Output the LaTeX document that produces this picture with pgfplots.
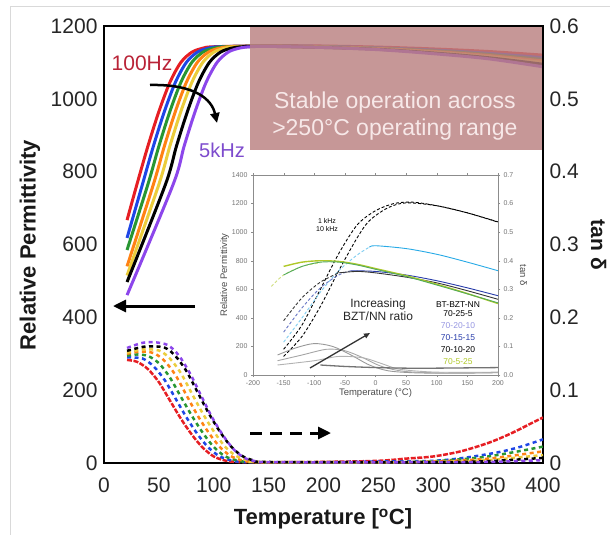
\documentclass[border=0pt]{standalone}
\usepackage{fontspec}
\setmainfont{Liberation Sans}
\usepackage{pgfplots}
\pgfplotsset{compat=1.18}
\usetikzlibrary{arrows.meta}

\definecolor{cRed}{RGB}{230,30,35}
\definecolor{cBlue}{RGB}{30,70,230}
\definecolor{cGreen}{RGB}{40,150,50}
\definecolor{cOrange}{RGB}{255,130,20}
\definecolor{cYellow}{RGB}{235,205,60}
\definecolor{cPurple}{RGB}{140,70,235}
\definecolor{boxFill}{RGB}{185,128,128}
\definecolor{boxText}{RGB}{247,232,232}
\definecolor{lblRed}{RGB}{185,35,55}
\definecolor{lblPurple}{RGB}{125,75,205}
\definecolor{inLBlue}{RGB}{40,170,230}
\definecolor{inNavy}{RGB}{40,60,170}
\definecolor{inLime}{RGB}{175,200,40}
\definecolor{inLav}{RGB}{150,150,225}

\pgfplotsset{
  perm/.style={line width=3pt, smooth, tension=0.5, no markers},
  tand/.style={line width=2.5pt, smooth, tension=0.5, no markers, dash pattern=on 4pt off 3.5pt},
  ins/.style={line width=0.9pt, smooth, tension=0.5, no markers},
  bigaxis/.style={
    at={(104pt,-463pt)}, anchor=south west,
    width=439pt, height=437pt, scale only axis,
    xmin=0, xmax=400,
    major tick length=0pt,
    axis line style={line width=1.6pt},
    tick label style={font=\fontsize{21}{24}\selectfont, text=black!85},
    /pgf/number format/assume math mode=true,
    /pgf/number format/1000 sep={},
  },
  smallaxis/.style={
    at={(253pt,-375pt)}, anchor=south west,
    width=245pt, height=200pt, scale only axis,
    xmin=-200, xmax=200,
    tick align=outside, major tick length=2pt,
    tick style={black!45},
    axis line style={black!45, line width=0.8pt},
    tick label style={font=\fontsize{7}{8}\selectfont, text=black!55},
    label style={font=\fontsize{9.5}{11}\selectfont, text=black!70},
    /pgf/number format/assume math mode=true,
    /pgf/number format/1000 sep={},
  },
}

\begin{document}
\begin{tikzpicture}
\useasboundingbox (0,0) rectangle (610pt,-535pt);
\draw[black!15, line width=1pt] (10pt,-535pt) -- (10pt,-7pt) -- (610pt,-7pt);

% relative permittivity, 100 Hz ... 5 kHz
\begin{axis}[bigaxis,
  ymin=0, ymax=1200,
  xtick={0,50,...,400}, ytick={0,200,...,1200},
  axis on top,
  xticklabel style={yshift=-11pt},
  yticklabel style={xshift=-3pt},
]
\addplot[perm, cRed] coordinates {(21,667)(30,765)(40,870)(50,965)(60,1045)(70,1100)(80,1128)(90,1139)(100,1143)(150,1146)(200,1145)(250,1142)(300,1137)(350,1130)(400,1120)};
\addplot[perm, cBlue] coordinates {(21,618)(35,765)(45,870)(55,965)(65,1045)(75,1100)(85,1128)(95,1139)(105,1143)(150,1145)(200,1144)(250,1140)(300,1134)(350,1125)(400,1113)};
\addplot[perm, cGreen] coordinates {(21,585)(40,765)(50,870)(60,965)(70,1045)(80,1100)(90,1128)(100,1139)(110,1143)(150,1145)(200,1143)(250,1139)(300,1132)(350,1122)(400,1108)};
\addplot[perm, cOrange] coordinates {(21,540)(45,765)(55,870)(65,965)(75,1045)(85,1100)(95,1128)(105,1139)(115,1143)(150,1144)(200,1142)(250,1138)(300,1130)(350,1119)(400,1104)};
\addplot[perm, cYellow] coordinates {(21,515)(50,765)(60,870)(70,965)(80,1045)(90,1100)(100,1128)(110,1139)(120,1143)(150,1144)(200,1142)(250,1137)(300,1128)(350,1116)(400,1100)};
\addplot[perm, black] coordinates {(21,497)(56,765)(66,870)(76,965)(86,1045)(96,1100)(106,1128)(116,1139)(126,1143)(150,1144)(200,1141)(250,1136)(300,1126)(350,1113)(400,1095)};
\addplot[perm, cPurple] coordinates {(21,461)(63,765)(73,870)(83,965)(93,1045)(103,1100)(113,1128)(123,1139)(133,1143)(150,1144)(200,1141)(250,1135)(300,1124)(350,1110)(400,1088)};
\fill[boxFill, fill opacity=0.82] (axis cs:133,860) rectangle (axis cs:400,1200);
\node[text=boxText, align=center, font=\fontsize{23}{27}\selectfont] at (axis cs:265,953)
  {Stable operation across\\>250°C operating range};
\end{axis}

% tan delta, right axis
\begin{axis}[bigaxis,
  ymin=0, ymax=0.6,
  axis x line=none, axis y line*=right,
  ytick={0,0.1,0.2,0.3,0.4,0.5,0.6},
  yticklabels={0,0.1,0.2,0.3,0.4,0.5,0.6},
  yticklabel style={xshift=3pt},
]
\addplot[tand, cRed, dash pattern=on 5pt off 1.5pt] coordinates {(21,0.1415)(30,0.139)(40,0.129)(50,0.111)(60,0.086)(70,0.061)(80,0.039)(90,0.021)(100,0.009)(110,0.0035)(120,0.0015)(150,0.001)(200,0.0015)(250,0.003)(275,0.006)(300,0.009)(325,0.016)(350,0.0275)(370,0.04)(390,0.055)(400,0.0625)};
\addplot[tand, cBlue] coordinates {(21,0.145)(35,0.1435)(45,0.133)(55,0.1145)(65,0.089)(75,0.063)(85,0.040)(95,0.0215)(105,0.0095)(115,0.004)(125,0.0015)(150,0.001)(200,0.001)(250,0.002)(300,0.003)(330,0.0075)(360,0.015)(380,0.0225)(400,0.0325)};
\addplot[tand, cGreen] coordinates {(21,0.1475)(30,0.149)(40,0.147)(50,0.137)(60,0.1175)(70,0.091)(80,0.065)(90,0.0415)(100,0.022)(110,0.0095)(120,0.004)(130,0.0015)(150,0.001)(250,0.001)(300,0.0025)(350,0.009)(400,0.0225)};
\addplot[tand, cOrange] coordinates {(21,0.150)(33,0.153)(45,0.151)(55,0.1405)(65,0.121)(75,0.0935)(85,0.066)(95,0.0425)(105,0.023)(115,0.010)(125,0.004)(135,0.0015)(150,0.001)(250,0.001)(300,0.002)(350,0.006)(400,0.016)};
\addplot[tand, cYellow] coordinates {(21,0.1515)(35,0.156)(50,0.1545)(60,0.1435)(70,0.1235)(80,0.0955)(90,0.068)(100,0.0435)(110,0.023)(120,0.010)(130,0.004)(140,0.0015)(250,0.001)(300,0.0015)(350,0.004)(400,0.011)};
\addplot[tand, black] coordinates {(21,0.154)(38,0.160)(55,0.1585)(65,0.147)(75,0.1265)(85,0.098)(95,0.0695)(105,0.0445)(115,0.024)(125,0.0105)(135,0.004)(145,0.0015)(250,0.001)(300,0.001)(350,0.0025)(400,0.007)};
\addplot[tand, cPurple] coordinates {(21,0.158)(35,0.165)(45,0.166)(58,0.162)(68,0.148)(78,0.124)(88,0.094)(98,0.064)(108,0.039)(118,0.019)(128,0.007)(138,0.0025)(150,0.0012)(250,0.001)(350,0.0015)(400,0.004)};
\end{axis}

% inset: permittivity of the compositions
\begin{axis}[smallaxis,
  ymin=0, ymax=1400,
  xtick={-200,-150,...,200}, ytick={0,200,...,1400},
  xlabel={Temperature (°C)}, ylabel={Relative Permittivity},
  xlabel style={yshift=4pt}, ylabel style={yshift=-4pt},
]
\addplot[ins, black, densely dashed] coordinates {(-150,180)(-120,350)(-90,600)(-60,850)(-30,1050)(0,1150)(30,1200)(60,1210)(100,1185)(150,1135)(200,1070)};
\addplot[ins, black, densely dashed] coordinates {(-150,130)(-120,270)(-90,480)(-60,730)(-30,960)(-10,1080)(20,1170)(50,1205)(100,1185)(150,1135)(200,1072)};
\addplot[ins, inLBlue!60, densely dashed] coordinates {(-150,230)(-120,400)(-90,580)(-60,730)(-30,840)(-10,895)};
\addplot[ins, inLBlue] coordinates {(-10,895)(0,905)(50,885)(100,845)(150,790)(200,730)};
\addplot[ins, inNavy!70, densely dashed] coordinates {(-150,300)(-120,470)(-90,610)(-60,700)(-40,730)};
\addplot[ins, inNavy] coordinates {(-40,730)(0,725)(50,700)(100,660)(150,610)(200,555)};
\addplot[ins, black!80, densely dashed] coordinates {(-150,380)(-120,540)(-90,650)(-60,715)};
\addplot[ins, black!80] coordinates {(-60,715)(-30,725)(0,715)(50,685)(100,645)(150,590)(200,530)};
\addplot[ins, inLime!60, densely dashed] coordinates {(-170,620)(-150,700)(-120,760)(-90,785)};
\addplot[ins, inLime, line width=1.4pt] coordinates {(-150,760)(-120,790)(-90,800)(-60,795)(-30,775)(0,745)(50,695)(100,635)(150,570)(200,500)};
\addplot[ins, cGreen!80] coordinates {(-150,700)(-120,760)(-90,790)(-60,790)(-30,770)(0,740)(50,690)(100,630)(150,568)(200,505)};
\end{axis}

% inset: tan delta
\begin{axis}[smallaxis,
  ymin=0, ymax=0.7,
  axis x line=none, axis y line*=right,
  ytick={0,0.1,0.2,0.3,0.4,0.5,0.6,0.7},
  yticklabels={0.0,0.1,0.2,0.3,0.4,0.5,0.6,0.7},
  ylabel={tan δ}, ylabel style={rotate=180},
]
\addplot[ins, black!40] coordinates {(-160,0.07)(-130,0.095)(-100,0.11)(-70,0.10)(-40,0.07)(-10,0.035)(20,0.015)(60,0.008)(120,0.006)(200,0.008)};
\addplot[ins, black!35] coordinates {(-160,0.05)(-120,0.07)(-80,0.09)(-50,0.085)(-20,0.06)(10,0.03)(50,0.012)(120,0.007)(200,0.009)};
\addplot[ins, black!30] coordinates {(-160,0.035)(-100,0.05)(-60,0.065)(-20,0.06)(10,0.04)(40,0.02)(100,0.01)(200,0.01)};
\addplot[ins, black!55, line width=1.3pt] coordinates {(-90,0.035)(-50,0.03)(0,0.026)(50,0.024)(100,0.024)(150,0.025)(200,0.026)};
\end{axis}

\begin{scope}[x=1pt, y=-1pt]
% inset annotations
\draw[black!80, line width=1.3pt, -{Triangle[length=6pt,width=5pt]}] (310,368) -- (370,333);
\node[align=center, font=\fontsize{12}{13}\selectfont, text=black!85] at (378,310) {Increasing\\BZT/NN ratio};
\node[font=\fontsize{7}{8}\selectfont, align=center] at (327,225) {1 kHz\\10 kHz};
\begin{scope}[font=\fontsize{8.5}{9}\selectfont]
\node at (458,305) {BT-BZT-NN};
\node at (458,314) {70-25-5};
\node[text=inLav] at (458,326) {70-20-10};
\node[text=inNavy] at (458,338) {70-15-15};
\node at (458,350) {70-10-20};
\node[text=inLime] at (458,362) {70-5-25};
\end{scope}
% main annotations
\node[text=lblRed, font=\fontsize{21}{24}\selectfont] at (142,63) {100Hz};
\node[text=lblPurple, font=\fontsize{20}{24}\selectfont] at (222,150) {5kHz};
\draw[line width=2.5pt, -{Triangle[length=10pt,width=9pt]}] (150,85) .. controls (196,84) and (212,100) .. (217,123);
\draw[line width=3pt, -{Triangle[length=13pt,width=12pt]}] (195,306) -- (113,306);
\draw[line width=3pt, dash pattern=on 12pt off 8pt, -{Triangle[length=13pt,width=12pt]}] (250,433) -- (331,433);
% axis titles
\node[rotate=90, font=\bfseries\fontsize{22}{24}\selectfont, text=black!90] at (30,245) {Relative Permittivity};
\node[font=\bfseries\fontsize{22}{24}\selectfont, text=black!90] at (323,519) {Temperature [\textsuperscript{o}C]};
\node[rotate=-90, anchor=base, inner sep=0pt, font=\bfseries\fontsize{21}{24}\selectfont, text=black!90] at (591,245) {tan δ};
\end{scope}
\end{tikzpicture}
\end{document}
